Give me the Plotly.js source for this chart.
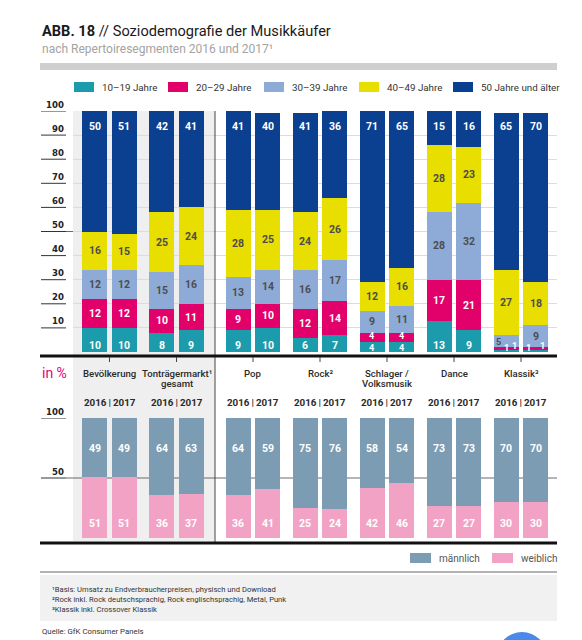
<!DOCTYPE html>
<html><head><meta charset="utf-8">
<script src="https://cdn.plot.ly/plotly-3.0.1.min.js"></script>
<style>html,body{margin:0;padding:0;background:#fff;} #chart{width:582px;height:640px;}</style>
</head><body><div id="chart"></div>
<script>
// ---------------- data ----------------
const groupLine1 = ['Bevölkerung', 'Tonträgermarkt¹', 'Pop', 'Rock²', 'Schlager /', 'Dance', 'Klassik³'];
const groupLine2 = ['', 'gesamt', '', '', 'Volksmusik', '', ''];
const years = ['2016', '2017'];
const ageNames = ['10–19 Jahre', '20–29 Jahre', '30–39 Jahre', '40–49 Jahre', '50 Jahre und älter'];
// one value per bar: group order, 2016 then 2017
const age1019   = [10, 10,  8,  9,  9, 10,  6,  7,  4,  4, 13,  9,  1,  1];
const age2029   = [12, 12, 10, 11,  9, 10, 12, 14,  4,  4, 17, 21,  1,  1];
const age3039   = [12, 12, 15, 16, 13, 14, 16, 17,  9, 11, 28, 32,  5,  9];
const age4049   = [16, 15, 25, 24, 28, 25, 24, 26, 12, 16, 28, 23, 27, 18];
const age50plus = [50, 51, 42, 41, 41, 40, 41, 36, 71, 65, 15, 16, 65, 70];
const genderNames = ['männlich', 'weiblich'];
const maennlich = [49, 49, 64, 63, 64, 59, 75, 76, 58, 54, 73, 73, 70, 70];
const weiblich  = [51, 51, 36, 37, 36, 41, 25, 24, 42, 46, 27, 27, 30, 30];
const topTicks = [10, 20, 30, 40, 50, 60, 70, 80, 90, 100];
const bottomTicks = [50, 100];
const footnotes = [
  '¹Basis: Umsatz zu Endverbraucherpreisen, physisch und Download',
  '²Rock inkl. Rock deutschsprachig, Rock englischsprachig, Metal, Punk',
  '³Klassik inkl. Crossover Klassik'
];
const sourceText = 'Quelle: GfK Consumer Panels';

// ---------------- styling ----------------
const W = 582, H = 640;
const ageColors = ['#1b9bab', '#e2006b', '#8eabd7', '#e8de00', '#0b3f8f'];
const ageTextColors = ['#ffffff', '#ffffff', '#4d4d4d', '#4d4d4d', '#ffffff'];
const genderColors = ['#7b9cb3', '#f2a2c5'];
const FONT = 'Roboto, "Open Sans", sans-serif';
const NARROW = '"Liberation Sans Narrow", "DejaVu Sans Condensed", Roboto, sans-serif';
const px = x => x / W;
const py = y => 1 - y / H;

const groupCenter = gi => 109.5 + gi * 67 + (gi >= 2 ? 9.5 : 0);
const barX = [];
groupLine1.forEach((g, gi) => years.forEach((yr, yi) => barX.push(groupCenter(gi) + (yi === 0 ? -14.6 : 14.6))));
const BW = 25;

const ageSeries = [age1019, age2029, age3039, age4049, age50plus];
const traces = [];
ageSeries.forEach((vals, si) => {
  traces.push({type: 'bar', x: barX, y: vals, width: BW, name: ageNames[si],
    marker: {color: ageColors[si], line: {width: 0}}, xaxis: 'x', yaxis: 'y', hoverinfo: 'skip'});
});
[weiblich, maennlich].forEach((vals, k) => {
  const gi = k === 0 ? 1 : 0;
  traces.push({type: 'bar', x: barX, y: vals, width: BW, name: genderNames[gi],
    marker: {color: genderColors[gi], line: {width: 0}}, xaxis: 'x2', yaxis: 'y2', hoverinfo: 'skip'});
});

const ann = [];
const shapes = [];
// title / subtitle
ann.push({xref: 'paper', yref: 'paper', x: px(40), y: py(31), xanchor: 'left', yanchor: 'middle', showarrow: false,
  text: '<b>ABB. 18</b> // Soziodemografie der Musikkäufer', font: {family: FONT, size: 14.6, color: '#1a1a1a'}});
ann.push({xref: 'paper', yref: 'paper', x: px(40), y: py(49), xanchor: 'left', yanchor: 'middle', showarrow: false,
  text: 'nach Repertoiresegmenten 2016 und 2017¹', font: {family: FONT, size: 12, color: '#a3a3a3'}});
shapes.push({type: 'rect', xref: 'paper', yref: 'paper', x0: px(40), x1: px(557), y0: py(70), y1: py(63), fillcolor: '#cfcfcf', line: {width: 0}});

// age legend
const legSq = [74, 168, 264, 359, 453];
ageNames.forEach((n, i) => {
  shapes.push({type: 'rect', xref: 'paper', yref: 'paper', x0: px(legSq[i]), x1: px(legSq[i] + 20), y0: py(92), y1: py(82), fillcolor: ageColors[i], line: {width: 0}});
  ann.push({xref: 'paper', yref: 'paper', x: px(legSq[i] + 26), y: py(87), xanchor: 'left', yanchor: 'middle', showarrow: false,
    text: n, font: {family: FONT, size: 9.8, color: '#333'}});
});

// gray background for first two groups
shapes.push({type: 'rect', xref: 'paper', yref: 'paper', x0: px(73), x1: px(215), y0: py(541), y1: py(111), fillcolor: '#efefef', line: {width: 0}, layer: 'below'});

// axis labels and short left tick lines
topTicks.forEach(t => {
  shapes.push({type: 'line', xref: 'paper', yref: 'y', x0: px(41), x1: px(66), y0: t, y1: t, line: {color: '#333', width: 1}});
  ann.push({xref: 'paper', yref: 'y', x: px(66), y: t, yshift: 7, xanchor: 'right', yanchor: 'middle', showarrow: false,
    text: String(t), font: {family: NARROW, size: 9.5, color: '#222', weight: 'bold'}});
});
bottomTicks.forEach(t => {
  shapes.push({type: 'line', xref: 'paper', yref: 'y2', x0: px(41), x1: px(66), y0: t, y1: t, line: {color: '#333', width: 1}});
  ann.push({xref: 'paper', yref: 'y2', x: px(66), y: t, yshift: 7, xanchor: 'right', yanchor: 'middle', showarrow: false,
    text: String(t), font: {family: NARROW, size: 9.5, color: '#222', weight: 'bold'}});
});
// darker 50 lines
shapes.push({type: 'line', xref: 'paper', yref: 'y', x0: px(66), x1: px(557), y0: 50, y1: 50, line: {color: '#6a6a6a', width: 1}, layer: 'between'});
shapes.push({type: 'line', xref: 'paper', yref: 'y2', x0: px(66), x1: px(557), y0: 50, y1: 50, line: {color: '#6a6a6a', width: 1}, layer: 'between'});

// separator and heavy baselines
shapes.push({type: 'line', xref: 'paper', yref: 'paper', x0: px(215), x1: px(215), y0: py(111), y1: py(543), line: {color: '#444', width: 1}});
shapes.push({type: 'line', xref: 'paper', yref: 'paper', x0: px(40), x1: px(557), y0: py(356), y1: py(356), line: {color: '#111', width: 3}});
shapes.push({type: 'line', xref: 'paper', yref: 'paper', x0: px(40), x1: px(557), y0: py(543), y1: py(543), line: {color: '#111', width: 3}});

// group ticks + labels
groupLine1.forEach((g, gi) => {
  const cx = groupCenter(gi);
  shapes.push({type: 'line', xref: 'paper', yref: 'paper', x0: px(cx), x1: px(cx), y0: py(357), y1: py(362), line: {color: '#444', width: 1}});
  ann.push({xref: 'paper', yref: 'paper', x: px(cx), y: py(373), xanchor: 'center', yanchor: 'middle', showarrow: false,
    text: g, font: {family: FONT, size: 9.6, color: '#2a2a2a', weight: 500}});
  if (groupLine2[gi]) ann.push({xref: 'paper', yref: 'paper', x: px(cx), y: py(383), xanchor: 'center', yanchor: 'middle', showarrow: false,
    text: groupLine2[gi], font: {family: FONT, size: 9.6, color: '#2a2a2a', weight: 500}});
  ann.push({xref: 'paper', yref: 'paper', x: px(cx), y: py(402), xanchor: 'center', yanchor: 'middle', showarrow: false,
    text: years[0] + '\u2009|\u2009' + years[1], font: {family: FONT, size: 9.8, color: '#2a2a2a', weight: 'bold'}});
});
ann.push({xref: 'paper', yref: 'paper', x: px(40), y: py(373), xanchor: 'left', yanchor: 'middle', showarrow: false,
  text: 'in %', font: {family: FONT, size: 14, color: '#e4007c'}});

// value labels top chart
const smallShift = {12: [0, 8, -8], 13: [-7, 7, 0]};
barX.forEach((bx, bi) => {
  let base = 0;
  ageSeries.forEach((vals, si) => {
    const v = vals[bi];
    const tight = age1019[bi] + age2029[bi] < 10;
    let yy;
    if (si === 0) yy = tight ? 1.9 : 2.7;
    else if (si === 4) yy = 93.4;
    else if (v < 3) yy = 2.5;
    else yy = base + v / 2 + (si === 1 && tight ? 0.7 : 0);
    const sh = smallShift[bi] ? smallShift[bi][si] || 0 : 0;
    const fs = v < 6 ? 9.2 : 10.5;
    ann.push({xref: 'x', yref: 'y', x: bx, y: yy, xshift: sh, showarrow: false, xanchor: 'center', yanchor: 'middle',
      text: String(v), font: {family: FONT, size: fs, color: ageTextColors[si], weight: 'bold'}, borderpad: 0});
    base += v;
  });
  ann.push({xref: 'x2', yref: 'y2', x: bx, y: 75, showarrow: false, text: String(maennlich[bi]),
    font: {family: FONT, size: 10.5, color: '#fff', weight: 'bold'}});
  ann.push({xref: 'x2', yref: 'y2', x: bx, y: 11.7, showarrow: false, text: String(weiblich[bi]),
    font: {family: FONT, size: 10.5, color: '#fff', weight: 'bold'}});
});

// gender legend
const gSq = [410, 492];
genderNames.forEach((n, i) => {
  shapes.push({type: 'rect', xref: 'paper', yref: 'paper', x0: px(gSq[i]), x1: px(gSq[i] + 21), y0: py(563), y1: py(553), fillcolor: genderColors[i], line: {width: 0}});
  ann.push({xref: 'paper', yref: 'paper', x: px(gSq[i] + 27), y: py(558), xanchor: 'left', yanchor: 'middle', showarrow: false,
    text: n, font: {family: FONT, size: 10, color: '#555'}});
});

// footnote block
shapes.push({type: 'line', xref: 'paper', yref: 'paper', x0: px(40), x1: px(557), y0: py(572), y1: py(572), line: {color: '#9a9a9a', width: 1.5}});
shapes.push({type: 'rect', xref: 'paper', yref: 'paper', x0: px(40), x1: px(557), y0: py(621), y1: py(575), fillcolor: '#f1f1f1', line: {width: 0}});
footnotes.forEach((f, i) => {
  ann.push({xref: 'paper', yref: 'paper', x: px(50), y: py(589 + i * 10), xanchor: 'left', yanchor: 'middle', showarrow: false,
    text: f, font: {family: FONT, size: 7.6, color: '#333'}});
});
ann.push({xref: 'paper', yref: 'paper', x: px(40), y: py(631), xanchor: 'left', yanchor: 'middle', showarrow: false,
  text: sourceText, font: {family: FONT, size: 7.8, color: '#333'}});
shapes.push({type: 'circle', xref: 'paper', yref: 'paper', x0: px(497), x1: px(547), y0: py(682), y1: py(632), fillcolor: '#4a88ea', line: {width: 0}});

const layout = {
  width: W, height: H, margin: {l: 0, r: 0, t: 0, b: 0}, paper_bgcolor: '#fff', plot_bgcolor: 'rgba(0,0,0,0)',
  showlegend: false, barmode: 'stack', bargap: 0,
  xaxis: {domain: [px(73), px(557)], range: [73, 557], visible: false, fixedrange: true},
  xaxis2: {domain: [px(73), px(557)], range: [73, 557], visible: false, anchor: 'y2', fixedrange: true},
  yaxis: {domain: [py(352), py(111)], range: [0, 100], tickvals: topTicks, showticklabels: false, showgrid: true,
    gridcolor: '#dcdcdc', gridwidth: 1, zeroline: false, showline: false, ticks: '', fixedrange: true},
  yaxis2: {domain: [py(538), py(418)], range: [0, 100], tickvals: [100], showticklabels: false, showgrid: true,
    gridcolor: '#dcdcdc', gridwidth: 1, zeroline: false, showline: false, ticks: '', anchor: 'x2', fixedrange: true},
  annotations: ann, shapes: shapes
};
Plotly.newPlot('chart', traces, layout, {displayModeBar: false, staticPlot: true});
</script></body></html>
